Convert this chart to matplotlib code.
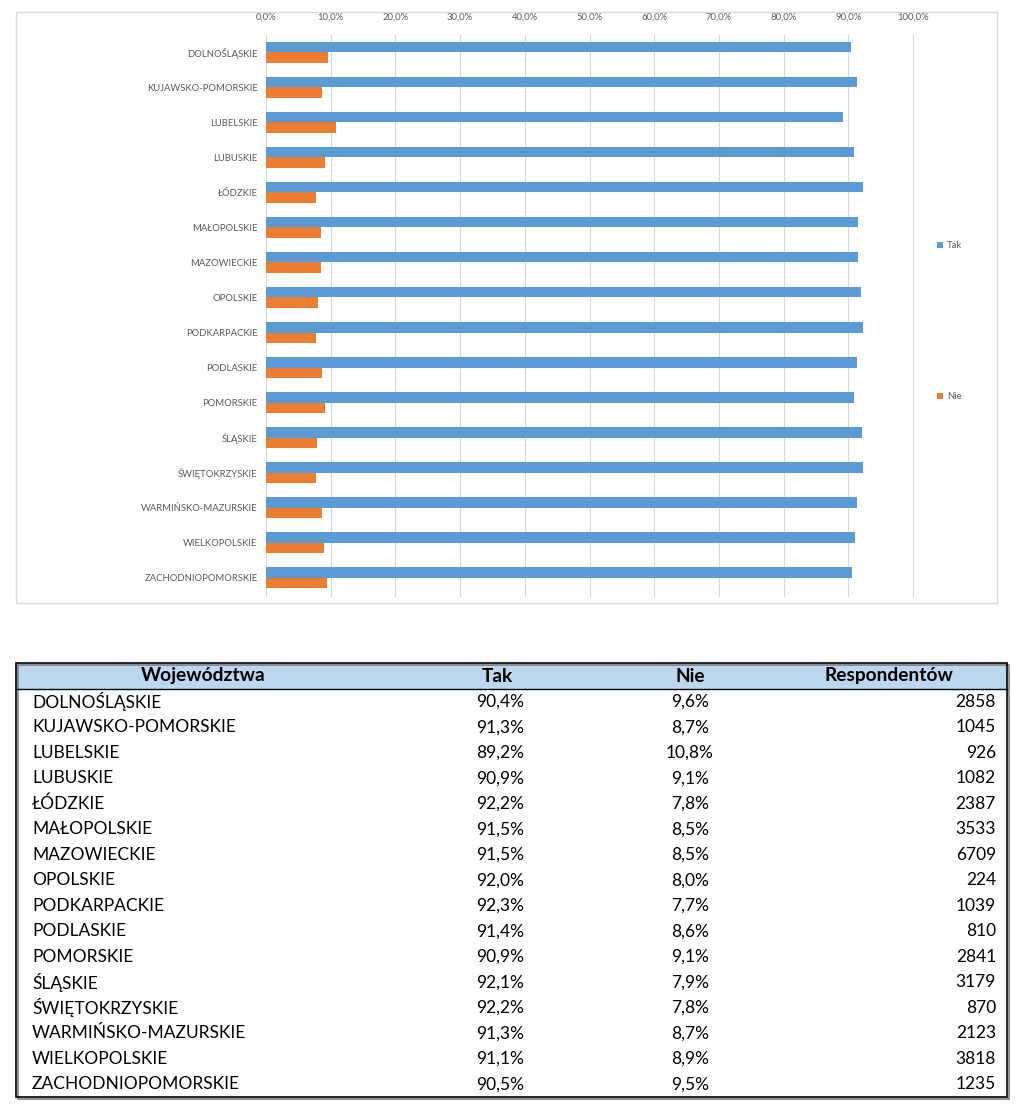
import matplotlib
matplotlib.use("Agg")
import matplotlib.pyplot as plt
from matplotlib.patches import Rectangle
import numpy as np

categories = ["DOLNOŚLĄSKIE", "KUJAWSKO-POMORSKIE", "LUBELSKIE", "LUBUSKIE", "ŁÓDZKIE",
              "MAŁOPOLSKIE", "MAZOWIECKIE", "OPOLSKIE", "PODKARPACKIE", "PODLASKIE",
              "POMORSKIE", "ŚLĄSKIE", "ŚWIĘTOKRZYSKIE", "WARMIŃSKO-MAZURSKIE",
              "WIELKOPOLSKIE", "ZACHODNIOPOMORSKIE"]
tak = [90.4, 91.3, 89.2, 90.9, 92.2, 91.5, 91.5, 92.0, 92.3, 91.4, 90.9, 92.1, 92.2, 91.3, 91.1, 90.5]
nie = [9.6, 8.7, 10.8, 9.1, 7.8, 8.5, 8.5, 8.0, 7.7, 8.6, 9.1, 7.9, 7.8, 8.7, 8.9, 9.5]
respondents = [2858, 1045, 926, 1082, 2387, 3533, 6709, 224, 1039, 810, 2841, 3179, 870, 2123, 3818, 1235]
headers = ["Województwa", "Tak", "Nie", "Respondentów"]
xticks = np.arange(0, 101, 10)

BLUE = "#5B9BD5"
ORANGE = "#ED7D31"
GREY = "#595959"
FONT = ["Lato", "DejaVu Sans"]
plt.rcParams["font.family"] = FONT

W, H = 1024, 1119
fig = plt.figure(figsize=(W / 100, H / 100), dpi=100)

def fx(px):
    return px / W

def fy(py):
    return 1 - py / H

# chart border
fig.patches.append(Rectangle((fx(16), fy(603)), fx(997) - fx(16), fy(12) - fy(603),
                             transform=fig.transFigure, fill=False, ec="#D9D9D9", lw=1.0))

ax = fig.add_axes([fx(266), fy(595.5), fx(913) - fx(266), fy(34.5) - fy(595.5)])
y = np.arange(len(categories))
h = 0.3
ax.barh(y - h / 2, tak, height=h, color=BLUE, label="Tak", zorder=3)
ax.barh(y + h / 2, nie, height=h, color=ORANGE, label="Nie", zorder=3)
ax.set_ylim(len(categories) - 0.5, -0.5)
ax.set_xlim(0, 100)
ax.set_yticks(y)
ax.set_yticklabels(categories, fontsize=6.8, color=GREY)
ax.set_xticks(xticks)
ax.set_xticklabels([f"{v:.1f}%".replace(".", ",") for v in xticks], fontsize=6.8, color=GREY)
ax.xaxis.tick_top()
ax.tick_params(axis="both", length=0, pad=6)
ax.tick_params(axis="x", pad=9)
for s in ax.spines.values():
    s.set_visible(False)
ax.grid(axis="x", color="#D9D9D9", lw=0.8, zorder=0)
for gl in ax.get_xgridlines():
    gl.set_clip_on(False)

leg = fig.legend(handles=ax.get_legend_handles_labels()[0], labels=["Tak", "Nie"],
                 loc="upper left", bbox_to_anchor=(fx(928), fy(233)), frameon=False,
                 fontsize=6.8, handlelength=0.7, handleheight=0.7, handletextpad=0.4,
                 labelspacing=15.0, labelcolor=GREY)

# table
tax = fig.add_axes([0, 0, 1, 1])
tax.set_xlim(0, W)
tax.set_ylim(H, 0)
tax.axis("off")
top, hdr_h, row_h = 663, 26, 25.5
left, right = 16, 1007
bottom = top + hdr_h + row_h * len(categories)
tax.add_patch(Rectangle((left, top), right - left, hdr_h, fc="#BDD7EE", ec="none"))
tax.add_patch(Rectangle((left + 1.5, top + 1.5), right - left, bottom - top, fill=False, ec="#7F7F7F", lw=1.2))
tax.add_patch(Rectangle((left, top), right - left, bottom - top, fc="none", ec="black", lw=1.2))
tax.plot([left, right], [top + hdr_h, top + hdr_h], color="black", lw=1.0)

fs = 12.5
hy = top + hdr_h / 2
for txt, xc in zip(headers, [203, 497, 690, 889]):
    tax.text(xc, hy, txt, ha="center", va="center", fontsize=13.8, fontweight="bold", color="black")

for i, (c, t, n, r) in enumerate(zip(categories, tak, nie, respondents)):
    yc = top + hdr_h + row_h * (i + 0.5)
    tax.text(32, yc, c, ha="left", va="center", fontsize=fs)
    tax.text(524, yc, f"{t:.1f}%".replace(".", ","), ha="right", va="center", fontsize=fs)
    tax.text(690, yc, f"{n:.1f}%".replace(".", ","), ha="center", va="center", fontsize=fs)
    tax.text(996, yc, f"{r}", ha="right", va="center", fontsize=fs)

fig.savefig("out.png", dpi=100)
